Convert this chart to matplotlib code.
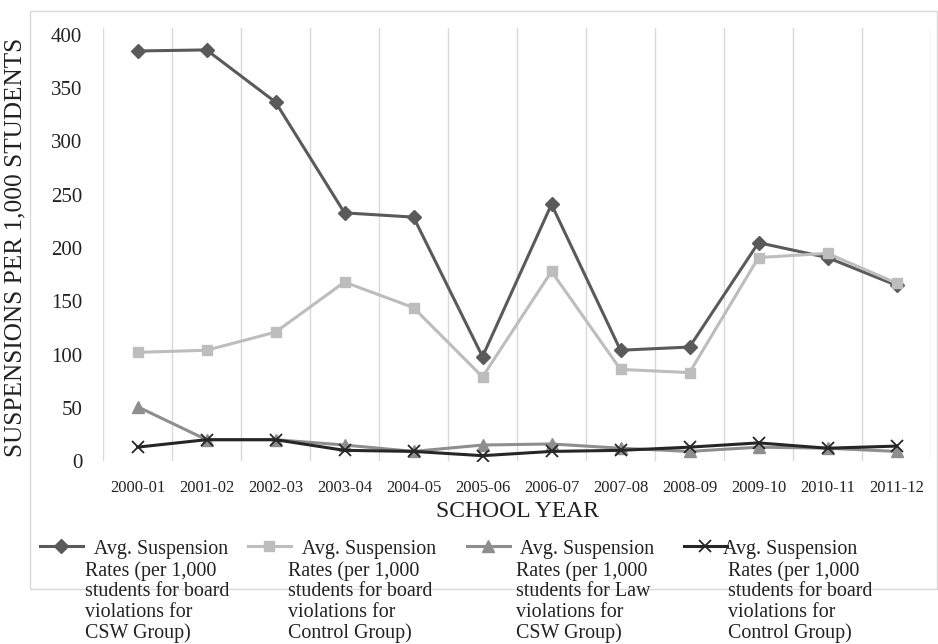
import numpy as np
import matplotlib
matplotlib.use("Agg")
import matplotlib.pyplot as plt
from matplotlib.patches import Rectangle

####################
# Data
####################

years = ["2000-01", "2001-02", "2002-03", "2003-04", "2004-05", "2005-06",
         "2006-07", "2007-08", "2008-09", "2009-10", "2010-11", "2011-12"]

board_csw = [385, 386, 337, 233, 229, 98, 241, 104, 107, 205, 191, 165]
board_control = [102, 104, 121, 168, 144, 79, 178, 86, 83, 191, 195, 167]
law_csw = [51, 20, 20, 15, 9, 15, 16, 12, 9, 13, 12, 9]
board_control_2 = [13, 20, 20, 10, 9, 5, 9, 10, 13, 17, 12, 14]

labels = [
    "  Avg. Suspension\nRates (per 1,000\nstudents for board\nviolations for\nCSW Group)",
    "   Avg. Suspension\nRates (per 1,000\nstudents for board\nviolations for\nControl Group)",
    " Avg. Suspension\nRates (per 1,000\nstudents for Law\nviolations for\nCSW Group)",
    "Avg. Suspension\n Rates (per 1,000\n students for board\n violations for\n Control Group)",
]

####################
# Plot
####################

plt.rcParams['font.family'] = ['Liberation Serif', 'DejaVu Serif']

W, H = 938, 644
fig = plt.figure(figsize=(W / 100, H / 100), dpi=100)
ax = fig.add_axes([103 / W, 1 - 461 / H, 828 / W, 433 / H])

x = np.arange(len(years))
styles = [
    (board_csw, "#5a5a5a", "D", 7),
    (board_control, "#bdbdbd", "s", 7.5),
    (law_csw, "#8e8e8e", "^", 8),
    (board_control_2, "#262626", "x", 9),
]
lines = []
for vals, col, mk, ms in styles:
    ln, = ax.plot(x, vals, color=col, lw=2.2, marker=mk, markersize=ms,
                  markeredgewidth=1.3 if mk == "x" else 1, zorder=3)
    lines.append(ln)

ax.set_xlim(-0.5, len(years) - 0.5)
ax.set_ylim(0, 400 * 433 / 426)
ax.set_yticks(np.arange(0, 401, 50))
ax.set_xticks(x)
ax.set_xticklabels(years)
ax.set_xticks(np.arange(-0.5, len(years), 1), minor=True)
ax.grid(True, which="minor", axis="x", color="#d9d9d9", lw=1)
ax.tick_params(which="both", length=0)
ax.tick_params(axis="y", labelsize=15, pad=15, colors="#222222")
ax.tick_params(axis="x", labelsize=12, pad=14, colors="#222222")
for s in ax.spines.values():
    s.set_visible(False)

ax.set_xlabel("SCHOOL YEAR", fontsize=17, color="#222222", labelpad=3)
fig.text(15 / W, 1 - 247 / H, "SUSPENSIONS PER 1,000 STUDENTS", rotation=90,
         ha="center", va="center", fontsize=18.2, color="#222222")

# outer chart border
fig.add_artist(Rectangle((30 / W, 1 - 589 / H), 907 / W, 578 / H,
                         transform=fig.transFigure, fill=False,
                         edgecolor="#d9d9d9", lw=1, zorder=0))

# legend: handle per entry, text drawn beside it
handle_x = [40, 248, 467, 684]
text_x = [85, 288, 516, 723]
for ln, hx, tx, lab in zip(lines, handle_x, text_x, labels):
    leg = fig.legend(handles=[ln], labels=[""], loc="center left",
                     bbox_to_anchor=(hx / W, 1 - 548 / H), frameon=False,
                     handlelength=2.2, borderpad=0, borderaxespad=0,
                     handletextpad=0, fontsize=14)
    t = fig.text(tx / W, 1 - 540 / H, lab, ha="left", va="top",
                 fontsize=14.4, color="#222222", linespacing=1.12)

fig.savefig("out.png", dpi=100)
